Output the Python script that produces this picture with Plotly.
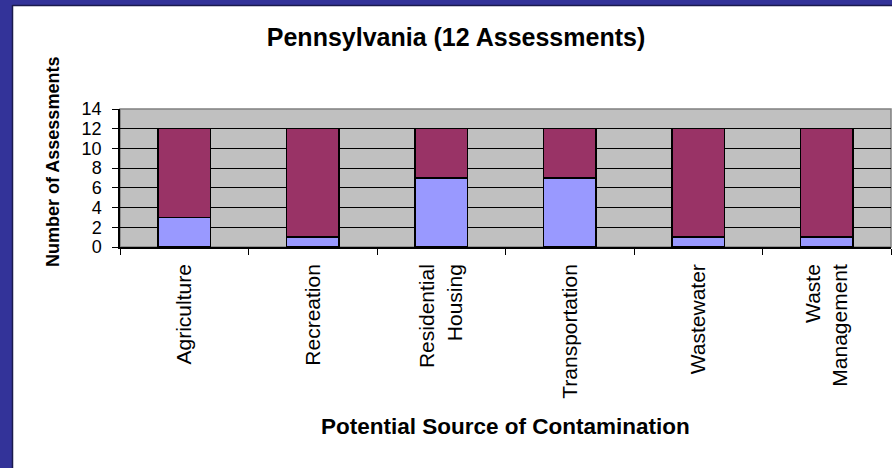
import plotly.graph_objects as go

# data
sources = ["Agriculture", "Recreation", "Residential<br>Housing",
           "Transportation", "Wastewater", "Waste<br>Management"]
lower_counts = [3, 1, 7, 7, 1, 1]
upper_counts = [9, 11, 5, 5, 11, 11]
y_ticks = [0, 2, 4, 6, 8, 10, 12, 14]

FONT = "Liberation Sans, Arial, sans-serif"
W, H = 892, 468
L, R, T, B = 120, 1, 109, 221
pw, ph = W - L - R, H - T - B


def px_x(p):
    return (p - L) / pw


def px_y(p):
    return (H - B - p) / ph


fig = go.Figure()
fig.add_trace(go.Bar(x=sources, y=lower_counts, marker_color="#9999FF",
                     marker_line=dict(color="black", width=1.5)))
fig.add_trace(go.Bar(x=sources, y=upper_counts, marker_color="#993366",
                     marker_line=dict(color="black", width=1.5)))

# blue frame at left and top
shapes = [
    dict(type="rect", xref="paper", yref="paper", x0=px_x(0), x1=px_x(13),
         y0=px_y(H), y1=px_y(0), fillcolor="#333399", line_width=0),
    dict(type="rect", xref="paper", yref="paper", x0=px_x(0), x1=px_x(W),
         y0=px_y(5), y1=px_y(0), fillcolor="#333399", line_width=0),
    dict(type="line", xref="paper", yref="paper", x0=px_x(12.5), x1=px_x(12.5),
         y0=px_y(H), y1=px_y(5), line=dict(color="#1a1a4d", width=1.5)),
    dict(type="line", xref="paper", yref="paper", x0=px_x(12.5), x1=px_x(W),
         y0=px_y(5.5), y1=px_y(5.5), line=dict(color="#1a1a4d", width=1.5)),
    # plot area border (top / right)
    dict(type="rect", xref="paper", yref="paper", x0=0, x1=1, y0=0, y1=1,
         line=dict(color="#808080", width=1.5), layer="below"),
]

annotations = [
    dict(text="<b>Number of Assessments</b>", textangle=-90, xref="paper", yref="paper",
         x=px_x(53), y=px_y(162), xanchor="center", yanchor="middle", showarrow=False,
         font=dict(family=FONT, size=18, color="black")),
    dict(text="<b>Potential Source of Contamination</b>", xref="paper", yref="paper",
         x=0.5, y=px_y(426), xanchor="center", yanchor="middle", showarrow=False,
         font=dict(family=FONT, size=22.5, color="black")),
]

fig.update_layout(
    barmode="stack",
    bargap=0.59,
    width=W, height=H,
    margin=dict(l=L, r=R, t=T, b=B, pad=0),
    paper_bgcolor="white",
    plot_bgcolor="#C0C0C0",
    showlegend=False,
    title=dict(text="<b>Pennsylvania (12 Assessments)</b>", x=px_x(456), xref="paper",
               xanchor="center", y=1 - 37 / H, yanchor="middle",
               font=dict(family=FONT, size=25, color="black")),
    shapes=shapes,
    annotations=annotations,
    font=dict(family=FONT, color="black"),
)

fig.update_xaxes(tickangle=-90, tickson="boundaries", ticks="outside", ticklen=6,
                 tickcolor="black", showline=True, linecolor="black", linewidth=1.5,
                 showgrid=False, ticklabelstandoff=7,
                 tickfont=dict(family=FONT, size=21, color="black"))
fig.update_yaxes(range=[0, 14], tickvals=y_ticks, ticks="outside", ticklen=6,
                 tickcolor="black", showline=True, linecolor="black", linewidth=1.5,
                 showgrid=True, gridcolor="black", gridwidth=1, zeroline=False,
                 ticklabelstandoff=7,
                 tickfont=dict(family=FONT, size=18, color="black"))

# page margin off so the figure sits at the window corner
fig.write_html("out.html", config={"displayModeBar": False},
               post_script="document.body.style.margin='0';")
